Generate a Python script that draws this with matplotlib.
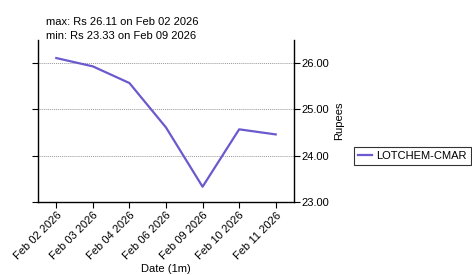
import matplotlib.pyplot as plt

plt.rcParams['font.family'] = ['Liberation Sans', 'DejaVu Sans']

# Data
dates = ["Feb 02 2026", "Feb 03 2026", "Feb 04 2026", "Feb 06 2026",
         "Feb 09 2026", "Feb 10 2026", "Feb 11 2026"]
prices = [26.11, 25.93, 25.57, 24.61, 23.33, 24.57, 24.46]
yticks = [23.0, 24.0, 25.0, 26.0]
series_name = "LOTCHEM-CMAR"

W, H = 472, 275
fs = 8
fig = plt.figure(figsize=(W / 100, H / 100), dpi=100)
ax = fig.add_axes([38 / W, 1 - 202 / H, (294 - 38) / W, (202 - 40) / H])

x = list(range(len(dates)))
line, = ax.plot(x, prices, color='#6a5acd', linewidth=1.6, label=series_name)

ax.set_xlim(-0.5, len(dates) - 0.5)
ax.set_ylim(23.0, 26.5)
ax.set_xticks(x)
ax.set_xticklabels(dates, rotation=45, ha='right', rotation_mode='anchor', fontsize=fs)
ax.set_yticks(yticks)
ax.set_yticklabels([f"{v:.2f}" for v in yticks], fontsize=fs)
ax.tick_params(axis='y', left=True, right=True, labelleft=False, labelright=True,
               direction='out', length=4, width=0.8, pad=1)
ax.tick_params(axis='x', direction='out', length=4, width=0.8, pad=2)

for v in yticks[1:]:
    ax.axhline(v, color='#999999', linestyle=(0, (1, 1)), linewidth=0.7, zorder=0)

ax.spines['top'].set_visible(False)
for s in ['left', 'right', 'bottom']:
    ax.spines[s].set_linewidth(1.0)

ax.yaxis.set_label_position('right')
ax.set_ylabel("Rupees", fontsize=fs, labelpad=4)
fig.text((38 + 294) / 2 / W, 1 - 269 / H, "Date (1m)", fontsize=fs, ha='center', va='center')

fig.text(46 / W, 1 - 25 / H, "max: Rs %.2f on %s" % (max(prices), dates[prices.index(max(prices))]),
         fontsize=fs, va='baseline', ha='left')
fig.text(46 / W, 1 - 39 / H, "min: Rs %.2f on %s" % (min(prices), dates[prices.index(min(prices))]),
         fontsize=fs, va='baseline', ha='left')

leg = fig.legend(handles=[line], loc='center left', bbox_to_anchor=(354 / W, 1 - 156 / H),
                 fontsize=fs, frameon=True, fancybox=False, handlelength=1.2,
                 handletextpad=0.4, borderpad=0.4, borderaxespad=0)
leg.get_frame().set_edgecolor('black')
leg.get_frame().set_linewidth(0.8)

fig.savefig("out.png", dpi=100)
